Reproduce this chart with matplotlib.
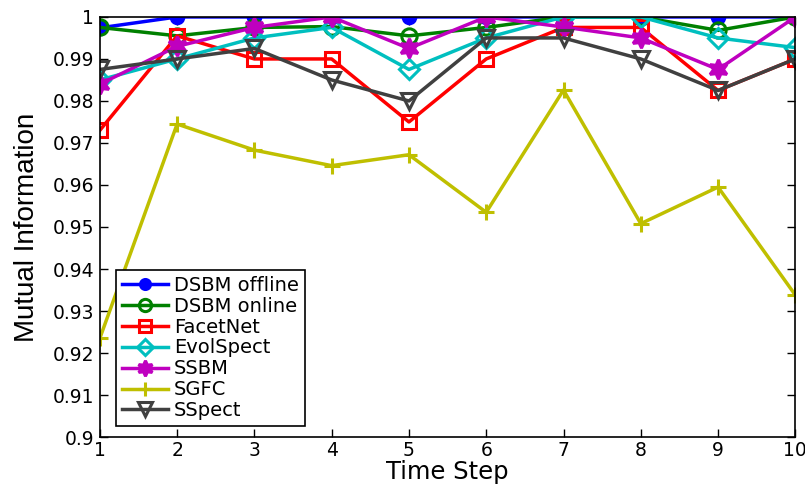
import numpy as np
import matplotlib
matplotlib.use('Agg')
import matplotlib.pyplot as plt

steps = list(range(1, 11))
dsbm_offline = [0.9974, 1.0, 1.0, 1.0, 1.0, 1.0, 1.0, 1.0, 1.0, 1.0]
dsbm_online = [0.9975, 0.9955, 0.9975, 0.9977, 0.9955, 0.9975, 1.0, 1.0, 0.9968, 1.0]
facetnet = [0.973, 0.9955, 0.990, 0.990, 0.975, 0.990, 0.9975, 0.9975, 0.9825, 0.990]
evolspect = [0.985, 0.990, 0.995, 0.9975, 0.9875, 0.995, 1.0, 1.0, 0.995, 0.9927]
ssbm = [0.984, 0.993, 0.9975, 1.0, 0.9925, 1.0, 0.9976, 0.995, 0.9875, 1.0]
sgfc = [0.9235, 0.9745, 0.9683, 0.9646, 0.9672, 0.9535, 0.9826, 0.9508, 0.9595, 0.9338]
sspect = [0.9875, 0.990, 0.9925, 0.985, 0.980, 0.995, 0.995, 0.990, 0.9825, 0.990]

names = ['DSBM offline', 'DSBM online', 'FacetNet', 'EvolSpect', 'SSBM', 'SGFC', 'SSpect']
series = [dsbm_offline, dsbm_online, facetnet, evolspect, ssbm, sgfc, sspect]
colors = ['#0000ff', '#008000', '#ff0000', '#00bfbf', '#bf00bf', '#bfbf00', '#404040']
markers = ['o', 'o', 's', 'D', (6, 1, 0), '+', 'v']
filled = [True, False, False, False, True, True, False]
msizes = [9, 11, 10, 10, 14, 12, 12]

plt.rcParams['font.family'] = ['DejaVu Sans']
fig = plt.figure(figsize=(8.05, 4.84), dpi=100)
ax = fig.add_axes([0.124, 0.097, 0.864, 0.868])

for name, vals, c, m, f, ms in zip(names, series, colors, markers, filled, msizes):
    ax.plot(steps, vals, color=c, marker=m, markersize=ms, linewidth=2.5,
            markeredgewidth=2.2, markerfacecolor=c if f else 'none',
            markeredgecolor=c, label=name)

ax.set_xlim(1, 10)
ax.set_ylim(0.9, 1.0)
ax.set_xticks(steps)
yt = np.arange(0.9, 1.0001, 0.01)
ax.set_yticks(yt)
ax.set_yticklabels(['%g' % round(v, 2) for v in yt])
ax.tick_params(direction='in', labelsize=13.5, right=True, top=True, length=6, width=1)
ax.tick_params(axis='x', pad=3)
ax.tick_params(axis='y', pad=4)
ax.set_xlabel('Time Step', fontsize=17.5, labelpad=0)
ax.set_ylabel('Mutual Information', fontsize=20, labelpad=9, family='Liberation Sans')
for s in ax.spines.values():
    s.set_linewidth(1.2)

leg = ax.legend(loc='lower left', fontsize=14, handlelength=2.4, handletextpad=0.3,
                labelspacing=0.1, borderpad=0.3, fancybox=False, framealpha=1,
                edgecolor='black', bbox_to_anchor=(0.023, 0.026), borderaxespad=0,
                markerscale=0.8)
leg.get_frame().set_linewidth(1.2)

plt.savefig('out.png', dpi=100)
